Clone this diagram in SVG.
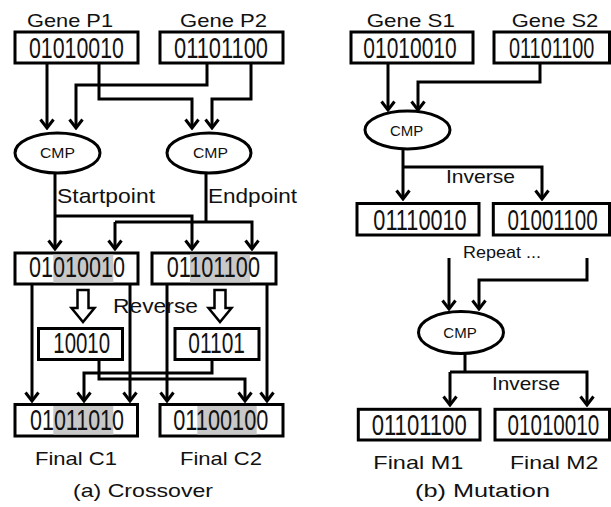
<svg xmlns="http://www.w3.org/2000/svg" width="611" height="507" viewBox="0 0 611 507">
<style>
.box{fill:#fff;stroke:#000;stroke-width:3}
.hl{fill:#c8c8c8}
.ell{fill:#fff;stroke:#000;stroke-width:3}
.bits{font-family:"Liberation Sans",Arial,sans-serif;font-size:29.5px;fill:#111}
.lbl{font-family:"Liberation Sans",Arial,sans-serif;font-size:18.5px;fill:#111}
.big{font-size:21px}
.cmp{font-family:"Liberation Sans",Arial,sans-serif;font-size:15px;fill:#111}
.rep{font-size:17px}
#connectors path.c{fill:none;stroke:#000;stroke-width:3;marker-end:url(#ah)}
#connectors path.p{fill:none;stroke:#000;stroke-width:3}
#connectors path.blk{fill:#fff;stroke:#000;stroke-width:2.5;stroke-linejoin:miter}
</style>
<defs>
<marker id="ah" viewBox="-12 -9 14 18" refX="0" refY="0" markerWidth="14" markerHeight="18" markerUnits="userSpaceOnUse" orient="auto">
<path d="M-8.5,-6.5 L0,0 L-8.5,6.5" fill="none" stroke="#000" stroke-width="3"/>
</marker>
</defs>
<rect width="611" height="507" fill="#fff"/>

<g id="connectors">
<path class="c" d="M47,63 V128"/>
<path class="c" d="M99,63 V99 H192 V128"/>
<path class="c" d="M207,63 V85 H76 V128"/>
<path class="c" d="M251,63 V99 H212 V128"/>
<path class="c" d="M55,173 V249"/>
<path class="c" d="M55,216 H192 V249"/>
<path class="p" d="M206,173 V222"/>
<path class="c" d="M115,222 V249"/>
<path class="c" d="M115,222 H252 V249"/>
<path class="c" d="M32,284 V401"/>
<path class="c" d="M130,284 V401"/>
<path class="c" d="M167,284 V401"/>
<path class="c" d="M267,284 V401"/>
<path class="c" d="M99,359 V379 H245 V401"/>
<path class="c" d="M212,359 V373 H84 V401"/>
<path class="blk" d="M77.5,290 H88.5 V308 H94.5 L83,322 L71.5,308 H77.5 Z"/>
<path class="blk" d="M214.5,290 H225.5 V308 H231.5 L220,322 L208.5,308 H214.5 Z"/>
<path class="c" d="M388,63 V110"/>
<path class="c" d="M540,63 V82 H418 V110"/>
<path class="c" d="M403,149 V199"/>
<path class="c" d="M403,167 H542 V199"/>
<path class="c" d="M449,258 V309"/>
<path class="c" d="M587,258 V280 H479 V309"/>
<path class="p" d="M465,353 V372"/>
<path class="c" d="M450,372 V405"/>
<path class="c" d="M450,372 H587 V405"/>
<text class="lbl big" x="57" y="203" textLength="98" lengthAdjust="spacingAndGlyphs">Startpoint</text>
<text class="lbl big" x="208" y="203" textLength="89" lengthAdjust="spacingAndGlyphs">Endpoint</text>
<text class="lbl big" x="113" y="313" textLength="85" lengthAdjust="spacingAndGlyphs">Reverse</text>
<text class="lbl" x="446" y="183" textLength="69" lengthAdjust="spacingAndGlyphs">Inverse</text>
<text class="lbl rep" x="463" y="258" textLength="78" lengthAdjust="spacingAndGlyphs">Repeat ...</text>
<text class="lbl" x="492" y="390" textLength="68" lengthAdjust="spacingAndGlyphs">Inverse</text>
</g>

<g id="geneP1">
<text class="lbl" x="27" y="27" textLength="86" lengthAdjust="spacingAndGlyphs">Gene P1</text>
<rect class="box" x="15" y="32" width="123" height="31"/>
<text class="bits" x="29" y="58.3" textLength="95" lengthAdjust="spacingAndGlyphs">01010010</text>
</g>
<g id="geneP2">
<text class="lbl" x="180" y="27" textLength="87" lengthAdjust="spacingAndGlyphs">Gene P2</text>
<rect class="box" x="160" y="32" width="123" height="31"/>
<text class="bits" x="174" y="58.3" textLength="94" lengthAdjust="spacingAndGlyphs">01101100</text>
</g>
<g id="cmpL1">
<ellipse class="ell" cx="57.5" cy="153" rx="42.5" ry="20"/>
<text class="cmp" x="40" y="158.3" textLength="35" lengthAdjust="spacingAndGlyphs">CMP</text>
</g>
<g id="cmpL2">
<ellipse class="ell" cx="209" cy="153" rx="42" ry="20"/>
<text class="cmp" x="193" y="158.3" textLength="35" lengthAdjust="spacingAndGlyphs">CMP</text>
</g>
<g id="childA">
<rect class="box" x="15" y="253" width="123" height="31"/>
<rect class="hl" x="53.3" y="254.5" width="60" height="28"/>
<text class="bits" x="29" y="277" textLength="96" lengthAdjust="spacingAndGlyphs">01010010</text>
</g>
<g id="childB">
<rect class="box" x="152" y="253" width="124" height="31"/>
<rect class="hl" x="190" y="254.5" width="60" height="28"/>
<text class="bits" x="166.7" y="277" textLength="93.3" lengthAdjust="spacingAndGlyphs">01101100</text>
</g>
<g id="revA">
<rect class="box" x="38.5" y="328.5" width="84" height="31"/>
<text class="bits" x="53.3" y="353" textLength="56.7" lengthAdjust="spacingAndGlyphs">10010</text>
</g>
<g id="revB">
<rect class="box" x="175" y="328.5" width="84" height="31"/>
<text class="bits" x="188.3" y="353" textLength="56.7" lengthAdjust="spacingAndGlyphs">01101</text>
</g>
<g id="finalC1">
<rect class="box" x="15" y="404.5" width="122.5" height="31.5"/>
<rect class="hl" x="53.3" y="406" width="60" height="28.5"/>
<text class="bits" x="30" y="430" textLength="94" lengthAdjust="spacingAndGlyphs">01011010</text>
<text class="lbl" x="35" y="465" textLength="82" lengthAdjust="spacingAndGlyphs">Final C1</text>
</g>
<g id="finalC2">
<rect class="box" x="160" y="404.5" width="123" height="31.5"/>
<rect class="hl" x="197.3" y="406" width="59.4" height="28.5"/>
<text class="bits" x="173.3" y="430" textLength="95" lengthAdjust="spacingAndGlyphs">01100100</text>
<text class="lbl" x="180" y="465" textLength="82" lengthAdjust="spacingAndGlyphs">Final C2</text>
</g>
<text class="lbl" x="73" y="497" textLength="140" lengthAdjust="spacingAndGlyphs">(a) Crossover</text>

<g id="geneS1">
<text class="lbl" x="366.7" y="27" textLength="88.3" lengthAdjust="spacingAndGlyphs">Gene S1</text>
<rect class="box" x="351" y="32" width="122" height="31"/>
<text class="bits" x="363.3" y="58.3" textLength="93.4" lengthAdjust="spacingAndGlyphs">01010010</text>
</g>
<g id="geneS2">
<text class="lbl" x="511.7" y="27" textLength="86.6" lengthAdjust="spacingAndGlyphs">Gene S2</text>
<rect class="box" x="494" y="32" width="115.5" height="31"/>
<text class="bits" transform="translate(509,58.3) scale(0.673,1)">01101100</text>
</g>
<g id="cmpR1">
<ellipse class="ell" cx="407.5" cy="130" rx="42.5" ry="19"/>
<text class="cmp" x="390" y="136" textLength="33.3" lengthAdjust="spacingAndGlyphs">CMP</text>
</g>
<g id="mutA">
<rect class="box" x="357" y="203.5" width="122" height="31.5"/>
<text class="bits" x="373.3" y="230" textLength="93.4" lengthAdjust="spacingAndGlyphs">01110010</text>
</g>
<g id="mutB">
<rect class="box" x="493.3" y="203.5" width="116.2" height="31.5"/>
<text class="bits" transform="translate(507.5,230) scale(0.699,1)">01001100</text>
</g>
<g id="cmpR2">
<ellipse class="ell" cx="461" cy="332.5" rx="42.5" ry="21"/>
<text class="cmp" x="443.3" y="338.3" textLength="33.4" lengthAdjust="spacingAndGlyphs">CMP</text>
</g>
<g id="finalM1">
<rect class="box" x="358.3" y="409.3" width="121.7" height="30.7"/>
<text class="bits" x="371.7" y="435" textLength="95" lengthAdjust="spacingAndGlyphs">01101100</text>
<text class="lbl" x="373.3" y="469" textLength="90" lengthAdjust="spacingAndGlyphs">Final M1</text>
</g>
<g id="finalM2">
<rect class="box" x="495" y="409.3" width="114.5" height="30.7"/>
<text class="bits" transform="translate(507.5,435) scale(0.699,1)">01010010</text>
<text class="lbl" x="510" y="469" textLength="88.3" lengthAdjust="spacingAndGlyphs">Final M2</text>
</g>
<text class="lbl" x="415" y="497" textLength="135" lengthAdjust="spacingAndGlyphs">(b) Mutation</text>
</svg>
